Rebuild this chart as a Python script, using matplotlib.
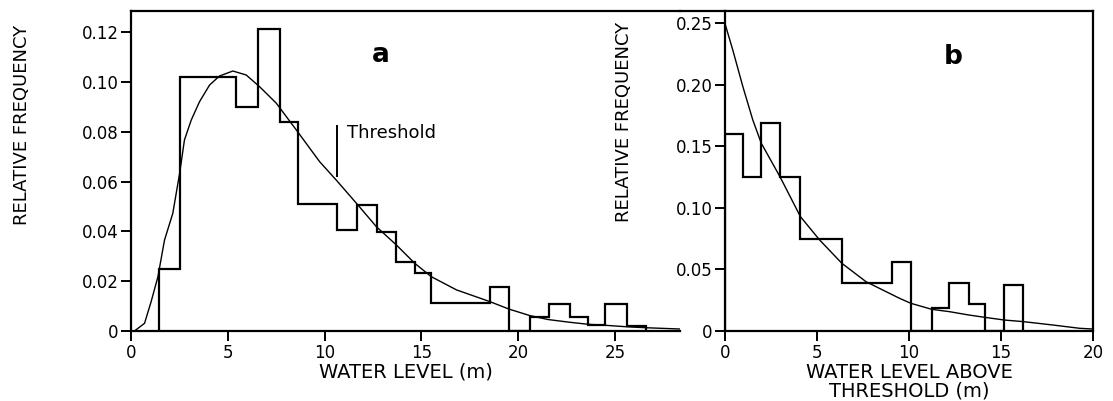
import matplotlib
matplotlib.use("Agg")
import matplotlib.pyplot as plt
from matplotlib.lines import Line2D

# ---- datos ----
# panel a: histograma del nivel de agua
bordes_a = [1.47, 2.51, 5.44, 6.55, 7.67, 8.62, 10.66, 11.67, 12.72, 13.71, 14.65,
            15.51, 18.56, 19.52, 20.59, 21.59, 22.66, 23.6, 24.47, 25.59, 26.6]
frec_a = [0.025, 0.1019, 0.0901, 0.1213, 0.0838, 0.0509, 0.0406, 0.0506, 0.0396,
          0.0278, 0.0232, 0.0114, 0.0178, 0.0, 0.0057, 0.0107, 0.0057, 0.0024,
          0.0107, 0.002]
# curva ajustada (leida punto a punto)
curva_a_x = [0.18, 0.70, 1.04, 1.39, 1.73, 2.16, 2.51, 2.76, 3.11, 3.54, 4.06, 4.57,
             5.26, 5.95, 6.64, 7.50, 8.54, 9.74, 10.6, 11.64, 12.67, 13.71, 14.65,
             15.51, 16.81, 18.53, 19.52, 20.59, 21.54, 22.66, 23.6, 24.47, 25.59,
             26.63, 28.35]
curva_a_y = [0.0, 0.0031, 0.0118, 0.0218, 0.0365, 0.0473, 0.0633, 0.0767, 0.0847,
             0.0921, 0.0988, 0.1024, 0.1044, 0.1028, 0.0981, 0.0915, 0.0807, 0.068,
             0.0606, 0.0513, 0.0419, 0.0345, 0.0272, 0.0218, 0.0165, 0.0118, 0.0088,
             0.0062, 0.0046, 0.0035, 0.0027, 0.0023, 0.0017, 0.0013, 0.0008]
umbral = 10.66
umbral_y = [0.0618, 0.0827]

# panel b: excedencias sobre el umbral
bordes_b = [0, 0.97, 1.97, 3.0, 4.1, 6.35, 9.07, 10.1, 11.24, 12.2, 13.25, 14.12,
            15.19, 16.22]
frec_b = [0.160, 0.125, 0.169, 0.125, 0.0746, 0.0393, 0.0563, 0.0, 0.0185, 0.0388,
          0.0217, 0.0, 0.0374]
curva_b_x = [0, 0.42, 0.97, 1.51, 1.97, 3.0, 4.1, 5.14, 6.35, 7.67, 9.48, 10.1,
             11.24, 12.2, 13.25, 14.12, 15.19, 16.22, 17.8, 19.27, 20]
curva_b_y = [0.2497, 0.2285, 0.1986, 0.1715, 0.1526, 0.125, 0.0929, 0.074, 0.055,
             0.040, 0.0266, 0.0225, 0.0176, 0.0157, 0.013, 0.0111, 0.0089, 0.0076,
             0.0049, 0.0022, 0.0016]

xticks_a = [0, 5, 10, 15, 20, 25]
yticks_a = [0, 0.02, 0.04, 0.06, 0.08, 0.10, 0.12]
yticklabels_a = ['0', '0.02', '0.04', '0.06', '0.08', '0.10', '0.12']
xticks_b = [0, 5, 10, 15, 20]
yticks_b = [0, 0.05, 0.10, 0.15, 0.20, 0.25]
yticklabels_b = ['0', '0.05', '0.10', '0.15', '0.20', '0.25']

W, H = 1113, 401
fig = plt.figure(figsize=(W / 100, H / 100), dpi=100)

def caja(izq, der, arriba, abajo):
    # convierte pixeles a fraccion de figura
    return [izq / W, 1 - abajo / H, (der - izq) / W, (abajo - arriba) / H]

ax1 = fig.add_axes(caja(131, 680, 11, 331))
ax2 = fig.add_axes(caja(725, 1093, 11, 331))

fuente_ticks = 12
for ax in (ax1, ax2):
    for lado in ax.spines.values():
        lado.set_linewidth(1.6)
    ax.tick_params(direction='out', length=7, width=1.4, pad=2,
                   labelsize=fuente_ticks, top=False, right=False)

# --- panel a ---
ax1.stairs(frec_a, bordes_a, color='black', lw=1.6)
ax1.plot(curva_a_x, curva_a_y, color='black', lw=1.0)
ax1.vlines(umbral, umbral_y[0], umbral_y[1], color='black', lw=1.4)
ax1.text(11.14, 0.0797, 'Threshold', fontsize=13, va='center', ha='left')
ax1.text(12.9, 0.1108, 'a', fontsize=19, fontweight='bold', ha='center', va='center')
ax1.set_xlim(0, 28.35)
ax1.set_ylim(0, 0.1285)
ax1.set_xticks(xticks_a)
ax1.set_yticks(yticks_a)
ax1.set_yticklabels(yticklabels_a)
ax1.spines['right'].set_visible(False)
ax1.set_xlabel('WATER LEVEL (m)', fontsize=14, labelpad=1)

# --- panel b ---
ax2.stairs(frec_b, bordes_b, color='black', lw=1.6)
ax2.plot(curva_b_x, curva_b_y, color='black', lw=1.0)
ax2.text(12.42, 0.2228, 'b', fontsize=19, fontweight='bold', ha='center', va='center')
ax2.set_xlim(0, 20)
ax2.set_ylim(0, 0.260)
ax2.set_xticks(xticks_b)
ax2.set_yticks(yticks_b)
ax2.set_yticklabels(yticklabels_b)
ax2.set_xlabel('WATER LEVEL ABOVE\nTHRESHOLD (m)', fontsize=14, labelpad=1,
               linespacing=0.95)

# etiquetas del eje y
fig.text(22 / W, 1 - 125 / H, 'RELATIVE FREQUENCY', rotation=90, ha='center',
         va='center', fontsize=13)
fig.text(624 / W, 1 - 122 / H, 'RELATIVE FREQUENCY', rotation=90, ha='center',
         va='center', fontsize=13)

# linea superior que une ambos paneles
fig.add_artist(Line2D([680 / W, 725 / W], [1 - 11 / H, 1 - 11 / H],
                      transform=fig.transFigure, color='black', lw=1.6))

fig.savefig('out.png', dpi=100, facecolor='white')
